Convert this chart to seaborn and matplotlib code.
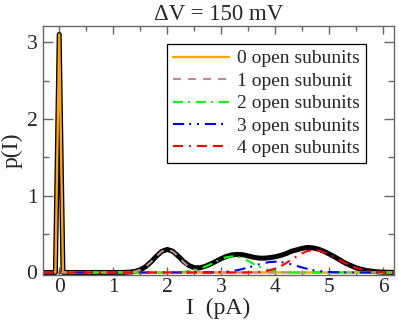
import numpy as np
import matplotlib
matplotlib.use("Agg")
import matplotlib.pyplot as plt
from matplotlib.ticker import MultipleLocator
import seaborn as sns

# current grid in pA (finer around the closed-state peak)
current = [-0.3, -0.2, -0.1, -0.07, 0.0, 0.07] + [round(0.1 * k, 1) for k in range(1, 63)]

# p(I) components, values from I = 1.2 to 6.2 written out
p_open0 = [0, 0, 0, 0, 3.1, 0] + [0] * 62
p_open1 = [0] * 17 + [
    .001, .004, .013, .034, .075, .137, .212, .275, .300, .275,
    .212, .137, .075, .034, .013, .004, .001, 0, 0, 0,
    0, 0, 0, 0, 0, 0, 0, 0, 0, 0,
    0, 0, 0, 0, 0, 0, 0, 0, 0, 0,
    0, 0, 0, 0, 0, 0, 0, 0, 0, 0,
    0]
p_open2 = [0] * 17 + [
    0, 0, 0, 0, 0, 0, 0, 0, 0, .002,
    .004, .008, .016, .028, .048, .074, .106, .141, .174, .199,
    .210, .205, .185, .150, .110, .075, .048, .027, .014, .006,
    .002, 0, 0, 0, 0, 0, 0, 0, 0, 0,
    0, 0, 0, 0, 0, 0, 0, 0, 0, 0,
    0]
p_open3 = [0] * 17 + [
    0, 0, 0, 0, 0, 0, 0, 0, 0, 0,
    0, 0, 0, 0, 0, .001, .002, .003, .006, .011,
    .019, .030, .046, .064, .085, .106, .123, .136, .140, .136,
    .123, .106, .085, .064, .046, .030, .019, .011, .006, .003,
    .002, .001, 0, 0, 0, 0, 0, 0, 0, 0,
    0]
p_open4 = [0] * 17 + [
    0, 0, 0, 0, 0, 0, 0, 0, 0, 0,
    0, 0, 0, 0, 0, 0, 0, 0, 0, 0,
    0, 0, 0, .001, .003, .006, .015, .030, .050, .080,
    .120, .170, .210, .250, .280, .290, .285, .265, .235, .200,
    .160, .120, .090, .060, .040, .025, .015, .008, .004, .002,
    .001]
p_total = [0, 0, 0, 0, 3.1, 0] + [0] * 11 + [
    .001, .004, .013, .034, .075, .137, .212, .275, .300, .277,
    .216, .145, .091, .062, .061, .079, .109, .144, .180, .210,
    .229, .235, .231, .215, .198, .187, .186, .193, .204, .222,
    .245, .276, .295, .314, .326, .320, .304, .276, .241, .203,
    .162, .121, .090, .060, .040, .025, .015, .008, .004, .002,
    .001]

labels = ["0 open subunits", "1 open subunit", "2 open subunits",
          "3 open subunits", "4 open subunits"]
colors = ["#ffa500", "#bc8f8f", "#00ff00", "#0000ff", "#ff0000"]
styles = ["-", (0, (5.8, 5.0)), (0, (7.2, 3.6, 1.4, 4.3)),
          (0, (8.0, 3.6, 1.4, 4.3, 1.4, 4.3)), (0, (7.2, 4.3, 1.4, 4.3, 7.2, 4.3))]

sns.set_style("ticks")
plt.rcParams["font.family"] = ["Liberation Serif", "DejaVu Serif"]
plt.rcParams["lines.scale_dashes"] = False

fig = plt.figure(figsize=(3.99, 3.21), dpi=100)
ax = fig.add_axes([43 / 399, 1 - 275 / 321, 351 / 399, 249 / 321])

sns.lineplot(x=current, y=p_total, color="black", linewidth=3.6,
             sort=False, estimator=None, ax=ax)
for comp, lab, col, ls in zip([p_open0, p_open1, p_open2, p_open3, p_open4],
                              labels, colors, styles):
    lw = 1.7 if ls == "-" else 1.5
    sns.lineplot(x=current, y=comp, color=col, linewidth=lw, linestyle=ls,
                 sort=False, estimator=None, label=lab, ax=ax)

ax.set_xlim(-0.3, 6.2)
ax.set_ylim(-0.033, 3.21)
ax.xaxis.set_major_locator(MultipleLocator(1))
ax.xaxis.set_minor_locator(MultipleLocator(0.5))
ax.yaxis.set_major_locator(MultipleLocator(1))
ax.yaxis.set_minor_locator(MultipleLocator(0.5))

spine_col = "0.4"
for s in ax.spines.values():
    s.set_visible(True)
    s.set_color(spine_col)
    s.set_linewidth(1.0)
ax.tick_params(which="both", direction="in", top=True, right=True,
               color=spine_col, width=1.0, labelsize=15.5)
ax.tick_params(axis="x", which="major", length=5.5, pad=2.5)
ax.tick_params(axis="x", which="minor", length=3.5)
ax.tick_params(axis="y", which="major", length=7, pad=4)
ax.tick_params(axis="y", which="minor", length=4)

ax.set_title("\u0394V = 150 mV", fontsize=16.5, pad=4)
ax.set_xlabel("I  (pA)", fontsize=17, labelpad=0)
ax.set_ylabel("p(I)", fontsize=17, labelpad=3)

leg = ax.legend(loc="upper right", bbox_to_anchor=(0.920, 0.928),
                fontsize=14, frameon=True, fancybox=False, framealpha=1,
                edgecolor="black", borderpad=0.3, borderaxespad=0,
                handlelength=2.9, handletextpad=0.4, labelspacing=0.25)
leg.get_frame().set_linewidth(0.9)

fig.savefig("out.png", dpi=100)
